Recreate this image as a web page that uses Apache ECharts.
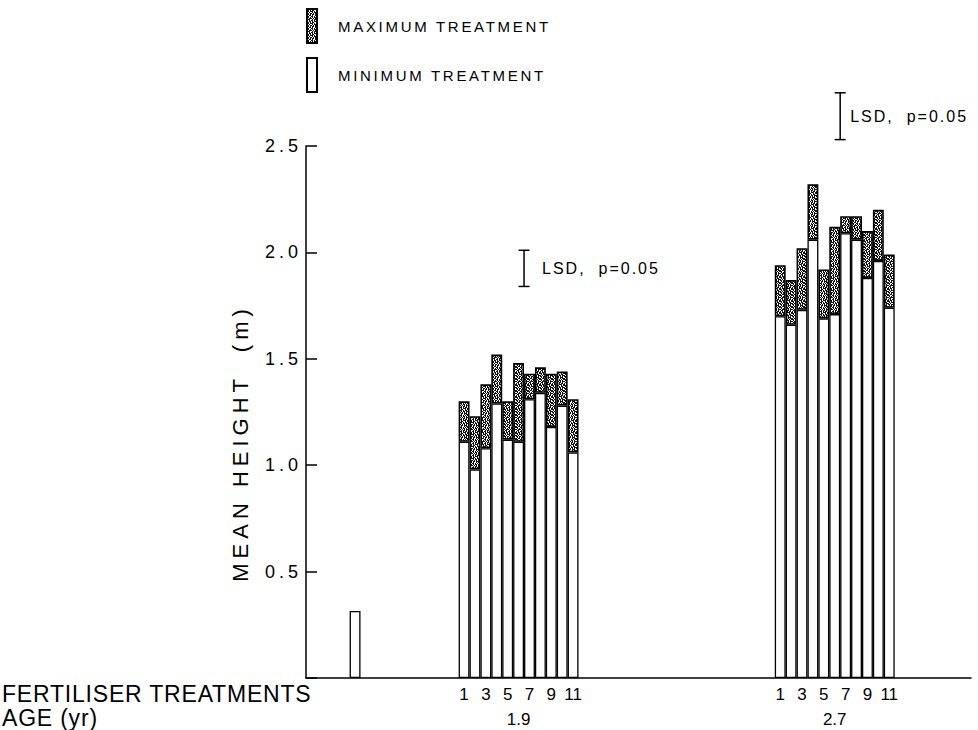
<!DOCTYPE html>
<html>
<head>
<meta charset="utf-8">
<script src="https://cdn.jsdelivr.net/npm/echarts@6/dist/echarts.min.js"></script>
<style>
html,body{margin:0;padding:0;background:#fff;}
#chart{width:978px;height:730px;}
#chart text[style*="15px"]{letter-spacing:2.7px;}
#chart text[style*="16px"]{letter-spacing:2px;}
#chart text[style*="18px"]{letter-spacing:4px;}
#chart text[style*="22px"]{letter-spacing:5px;}
#chart text[style*="23px"]{letter-spacing:0.8px;}
</style>
</head>
<body>
<div id="chart"></div>
<script>
// ---------- data ----------
const treatmentLabels = ['1','2','3','4','5','6','7','8','9','10','11'];
const shownTreatmentLabels = ['1','3','5','7','9','11'];
const ageLabels = ['1.9', '2.7'];
// age 1.9 yr
const minAge19 = [1.11, 0.98, 1.08, 1.29, 1.12, 1.11, 1.31, 1.34, 1.18, 1.28, 1.06];
const maxAge19 = [1.30, 1.23, 1.38, 1.52, 1.30, 1.48, 1.43, 1.46, 1.43, 1.44, 1.31];
// age 2.7 yr
const minAge27 = [1.70, 1.66, 1.73, 2.06, 1.69, 1.71, 2.09, 2.06, 1.88, 1.96, 1.74];
const maxAge27 = [1.94, 1.87, 2.02, 2.32, 1.92, 2.12, 2.17, 2.17, 2.10, 2.20, 1.99];
// initial planting height (white bar, no age label)
const initialHeight = 0.315;
// LSD (p=0.05) bars: top value and length
const lsdTop = [2.01, 2.75];
const lsdLength = [0.17, 0.22];
const lsdText = 'LSD,  p=0.05';
const yTicks = [0.5, 1.0, 1.5, 2.0, 2.5];
const yTitle = 'MEAN HEIGHT  (m)';
const xCaptions = ['FERTILISER TREATMENTS', 'AGE (yr)'];

// ---------- layout (slots on the category axis) ----------
const SLOT_COUNT = 61;
const initialSlot = 4;
const groupStart = [14, 43];
const lsdTextGap = [18, 10];
const groupMin = [minAge19, minAge27];
const groupMax = [maxAge19, maxAge27];

const slots = [];
for (let i = 0; i < SLOT_COUNT; i++) slots.push('s' + i);
const minData = new Array(SLOT_COUNT).fill('-');
const diffData = new Array(SLOT_COUNT).fill('-');
const treatLabelAt = new Array(SLOT_COUNT).fill('');
const ageLabelAt = new Array(SLOT_COUNT).fill('');
minData[initialSlot] = initialHeight;
groupStart.forEach((g, gi) => {
  treatmentLabels.forEach((t, i) => {
    minData[g + i] = groupMin[gi][i];
    diffData[g + i] = +(groupMax[gi][i] - groupMin[gi][i]).toFixed(3);
    if (shownTreatmentLabels.indexOf(t) >= 0) treatLabelAt[g + i] = t;
  });
  ageLabelAt[g + Math.floor(treatmentLabels.length / 2)] = ageLabels[gi];
});
const lsdData = groupStart.map((g, gi) => [g + 5, lsdTop[gi], lsdTop[gi] - lsdLength[gi], gi]);

// ---------- stipple texture ----------
const stippleRows = [
  '#.##.#.###.#',
  '##.#.##..#.#',
  '.#.###.#.##.',
  '#.#..#.##.##',
  '##.##.#.#.#.',
  '.#.#.##.###.',
  '#.##.#..#.##',
  '##..##.#.#.#',
  '.#.#.#.##.#.',
  '#.###.#.#.##',
  '.##..#.##.#.',
  '#.#.##.#.##.'
];
function makeStipple() {
  const c = document.createElement('canvas');
  c.width = 12; c.height = 12;
  const ctx = c.getContext('2d');
  ctx.fillStyle = '#fff'; ctx.fillRect(0, 0, 12, 12);
  ctx.fillStyle = '#111';
  stippleRows.forEach((row, y) => {
    row.split('').forEach((ch, x) => { if (ch === '#') ctx.fillRect(x, y, 1, 1); });
  });
  return c;
}
const stipple = { image: makeStipple(), repeat: 'repeat', imageWidth: 12, imageHeight: 12 };

const FONT = 'Liberation Sans';
const chart = echarts.init(document.getElementById('chart'), null, { renderer: 'svg' });

const option = {
  animation: false,
  backgroundColor: '#fff',
  textStyle: { fontFamily: FONT, color: '#000' },
  legend: {
    data: ['MAXIMUM TREATMENT', 'MINIMUM TREATMENT'],
    orient: 'vertical',
    left: 306, top: 8, padding: 0,
    itemWidth: 10, itemHeight: 34, itemGap: 13,
    icon: 'rect',
    selectedMode: false,
    textStyle: { fontFamily: FONT, fontSize: 15, color: '#000', padding: [0, 0, 0, 16] }
  },
  grid: { left: 306, top: 146, width: 665, height: 532, containLabel: false },
  xAxis: [
    {
      type: 'category', data: slots, boundaryGap: true,
      axisLine: { show: true, lineStyle: { color: '#000', width: 1.5 } },
      axisTick: { show: false },
      splitLine: { show: false },
      axisLabel: {
        interval: 0, margin: 8, fontSize: 17, fontFamily: FONT, color: '#000',
        formatter: (v, idx) => treatLabelAt[idx]
      }
    },
    {
      type: 'category', data: slots, position: 'bottom', offset: 26, gridIndex: 0,
      axisLine: { show: false }, axisTick: { show: false }, splitLine: { show: false },
      axisLabel: {
        interval: 0, margin: 7, fontSize: 17, fontFamily: FONT, color: '#000',
        formatter: (v, idx) => ageLabelAt[idx]
      }
    }
  ],
  yAxis: {
    type: 'value', min: 0, max: 2.5, interval: 0.5,
    axisLine: { show: true, lineStyle: { color: '#000', width: 1.5 } },
    axisTick: { show: true, inside: true, length: 11, lineStyle: { color: '#000', width: 1.5 } },
    splitLine: { show: false },
    axisLabel: {
      margin: 4, fontSize: 18, fontFamily: FONT, color: '#000',
      formatter: v => (yTicks.indexOf(v) >= 0 ? v.toFixed(1) : '')
    }
  },
  graphic: [
    { type: 'text', x: 240, y: 443, rotation: Math.PI / 2,
      style: { text: yTitle, font: '22px "Liberation Sans"', fill: '#000', textAlign: 'center', textVerticalAlign: 'middle' } },
    { type: 'text', x: 2, y: 694, style: { text: xCaptions[0], font: '23px "Liberation Sans"', fill: '#000', textVerticalAlign: 'middle' } },
    { type: 'text', x: 2, y: 718, style: { text: xCaptions[1], font: '23px "Liberation Sans"', fill: '#000', textVerticalAlign: 'middle' } }
  ],
  series: [
    {
      name: 'MINIMUM TREATMENT', type: 'bar', stack: 'h', data: minData,
      barCategoryGap: '0%', barGap: '0%',
      itemStyle: { color: '#fff', borderColor: '#000', borderWidth: 1.3 }
    },
    {
      name: 'MAXIMUM TREATMENT', type: 'bar', stack: 'h', data: diffData,
      barCategoryGap: '0%', barGap: '0%',
      itemStyle: { color: stipple, borderColor: '#000', borderWidth: 1.6 }
    },
    {
      type: 'custom', name: 'LSD', clip: false, z: 5,
      data: lsdData,
      encode: { x: 0, y: [1, 2] },
      renderItem: (params, api) => {
        const idx = api.value(0);
        const a = api.coord([idx, api.value(1)]);
        const b = api.coord([idx + 1, api.value(2)]);
        const x = (a[0] + b[0]) / 2;
        const y1 = a[1], y2 = b[1];
        const cap = 5.5;
        const st = { stroke: '#000', lineWidth: 1.5 };
        return {
          type: 'group',
          children: [
            { type: 'line', shape: { x1: x, y1: y1, x2: x, y2: y2 }, style: st },
            { type: 'line', shape: { x1: x - cap, y1: y1, x2: x + cap, y2: y1 }, style: st },
            { type: 'line', shape: { x1: x - cap, y1: y2, x2: x + cap, y2: y2 }, style: st },
            { type: 'text', x: x + lsdTextGap[api.value(3)], y: (y1 + y2) / 2,
              style: { text: lsdText, font: '16px "Liberation Sans"', fill: '#000', textAlign: 'left', textVerticalAlign: 'middle' } }
          ]
        };
      }
    }
  ]
};
chart.setOption(option);
</script>
</body>
</html>
